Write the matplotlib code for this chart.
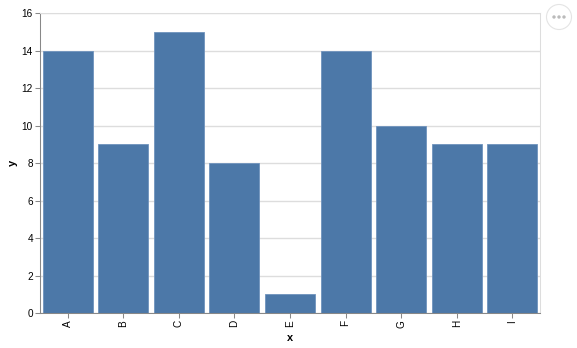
import matplotlib.pyplot as plt
from matplotlib.patches import Ellipse

categories = ["A", "B", "C", "D", "E", "F", "G", "H", "I"]
values = [14, 9, 15, 8, 1, 14, 10, 9, 9]
y_ticks = [0, 2, 4, 6, 8, 10, 12, 14, 16]

plt.rcParams['font.family'] = ['Liberation Sans', 'DejaVu Sans']

W, H = 577, 348
fig = plt.figure(figsize=(W / 100, H / 100), dpi=100)
ax = fig.add_axes([40 / W, (H - 313) / H, 500 / W, 300 / H])

pos = list(range(len(categories)))
ax.bar(pos, values, width=0.9, color="#4c78a8", edgecolor="#6f93bd", linewidth=0.6, zorder=2)

ax.set_xlim(-0.5, len(categories) - 0.5)
ax.set_ylim(0, 16)
ax.set_xticks(pos)
ax.set_xticklabels(categories, rotation=90, fontsize=7.2)
ax.set_yticks(y_ticks)
ax.set_yticklabels([str(t) for t in y_ticks], fontsize=7.2)

ax.grid(axis="y", color="#dddddd", linewidth=1, zorder=0)
ax.tick_params(axis="both", color="#888888", length=3.6, width=0.75, pad=1.5, labelcolor="#000000")
for side in ["left", "bottom"]:
    ax.spines[side].set_color("#888888")
    ax.spines[side].set_linewidth(0.75)
for side in ["top", "right"]:
    ax.spines[side].set_color("#dddddd")
    ax.spines[side].set_linewidth(0.75)

# axis titles placed in figure pixels
fig.text(290 / W, 1 - 338 / H, "x", fontsize=7.9, fontweight="bold", ha="center", va="center")
fig.text(13 / W, 1 - 163 / H, "y", fontsize=7.9, fontweight="bold", rotation=90, ha="center", va="center")

# action menu button
cx, cy = 559 / W, 1 - 17 / H
fig.add_artist(Ellipse((cx, cy), 25 / W, 25 / H, transform=fig.transFigure,
                       facecolor="white", edgecolor="#e4e4e4", linewidth=0.8))
for dx in (-5, 0, 5):
    fig.add_artist(Ellipse(((559 + dx) / W, cy), 3.4 / W, 3.4 / H, transform=fig.transFigure,
                           facecolor="#bbbbbb", edgecolor="none"))

fig.savefig("out.png", dpi=100)
